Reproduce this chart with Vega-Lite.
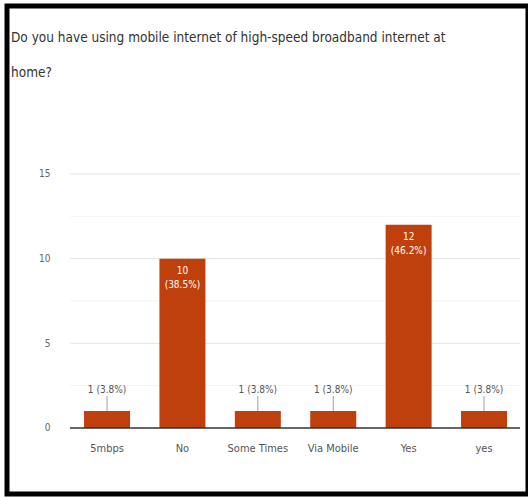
{
  "$schema": "https://vega.github.io/schema/vega-lite/v6.json",
  "autosize": {"type": "none"},
  "padding": {"left": 7, "top": 6, "right": 0, "bottom": 3},
  "width": 521,
  "height": 488,
  "background": "white",
  "config": {
    "view": {"stroke": "#000000", "strokeWidth": 5},
    "font": "DejaVu Sans Condensed, Roboto, sans-serif"
  },
  "title": {
    "text": ["Do you have using mobile internet of high-speed broadband internet at", "home?"],
    "anchor": "start",
    "frame": "group",
    "dx": 4,
    "offset": -73,
    "baseline": "top",
    "lineHeight": 35,
    "font": "DejaVu Sans Condensed, Roboto, sans-serif",
    "fontSize": 13.5,
    "fontWeight": "normal",
    "color": "#333333"
  },
  "data": {
    "values": [
      {"answer": "5mbps", "count": 1, "label": "1 (3.8%)"},
      {"answer": "No", "count": 10, "label": "10\n(38.5%)"},
      {"answer": "Some Times", "count": 1, "label": "1 (3.8%)"},
      {"answer": "Via Mobile", "count": 1, "label": "1 (3.8%)"},
      {"answer": "Yes", "count": 12, "label": "12\n(46.2%)"},
      {"answer": "yes", "count": 1, "label": "1 (3.8%)"}
    ]
  },
  "encoding": {
    "x": {
      "field": "answer",
      "type": "nominal",
      "scale": {
        "domain": ["5mbps", "No", "Some Times", "Via Mobile", "Yes", "yes"],
        "paddingInner": 0.39,
        "paddingOuter": 0.65,
        "align": 0.786
      },
      "axis": {
        "title": null,
        "orient": "bottom",
        "offset": -66,
        "domain": false,
        "ticks": false,
        "labelPadding": 14,
        "labelAngle": 0,
        "labelBaseline": "top",
        "labelFont": "DejaVu Sans Condensed, Roboto, sans-serif",
        "labelFontSize": 11,
        "labelColor": "#555555"
      }
    },
    "y": {
      "field": "count",
      "type": "quantitative",
      "scale": {"domain": [-3.9, 24.92], "nice": false, "zero": false},
      "axis": {
        "title": null,
        "values": [0, 5, 10, 15],
        "offset": -44,
        "domain": false,
        "ticks": false,
        "grid": false,
        "labelPadding": 1,
        "labelFont": "DejaVu Sans Condensed, Roboto, sans-serif",
        "labelFontSize": 10,
        "labelColor": "#666666"
      }
    }
  },
  "layer": [
    {
      "data": {
        "values": [
          {"g": 2.5, "kind": "minor"},
          {"g": 5, "kind": "major"},
          {"g": 7.5, "kind": "minor"},
          {"g": 10, "kind": "major"},
          {"g": 12.5, "kind": "minor"},
          {"g": 15, "kind": "major"}
        ]
      },
      "mark": {"type": "rule", "xOffset": -37, "x2Offset": 36, "strokeWidth": 1},
      "encoding": {
        "x": {"datum": "5mbps"},
        "x2": {"datum": "yes"},
        "y": {"field": "g", "type": "quantitative"},
        "color": {
          "field": "kind",
          "type": "nominal",
          "scale": {"domain": ["major", "minor"], "range": ["#e3e3e3", "#f3f3f3"]},
          "legend": null
        }
      }
    },
    {
      "mark": {"type": "bar", "color": "#BF400D"},
      "encoding": {}
    },
    {
      "data": {"values": [{"b": 0}]},
      "mark": {"type": "rule", "xOffset": -37, "x2Offset": 36, "strokeWidth": 1.5, "color": "#333333"},
      "encoding": {
        "x": {"datum": "5mbps"},
        "x2": {"datum": "yes"},
        "y": {"field": "b", "type": "quantitative"}
      }
    },
    {
      "transform": [{"filter": "datum.count < 5"}],
      "mark": {"type": "rule", "color": "#a0a0a0", "y2Offset": -15},
      "encoding": {
        "y2": {"field": "count"}
      }
    },
    {
      "transform": [{"filter": "datum.count < 5"}],
      "mark": {"type": "text", "dy": -21, "baseline": "middle", "fontSize": 10, "color": "#555555", "font": "DejaVu Sans Condensed, Roboto, sans-serif"},
      "encoding": {"text": {"field": "label"}}
    },
    {
      "transform": [{"filter": "datum.count >= 5"}],
      "mark": {"type": "text", "dy": 7, "baseline": "top", "fontSize": 10, "color": "#ffffff", "lineBreak": "\n", "lineHeight": 14, "font": "DejaVu Sans Condensed, Roboto, sans-serif"},
      "encoding": {"text": {"field": "label"}}
    }
  ]
}
